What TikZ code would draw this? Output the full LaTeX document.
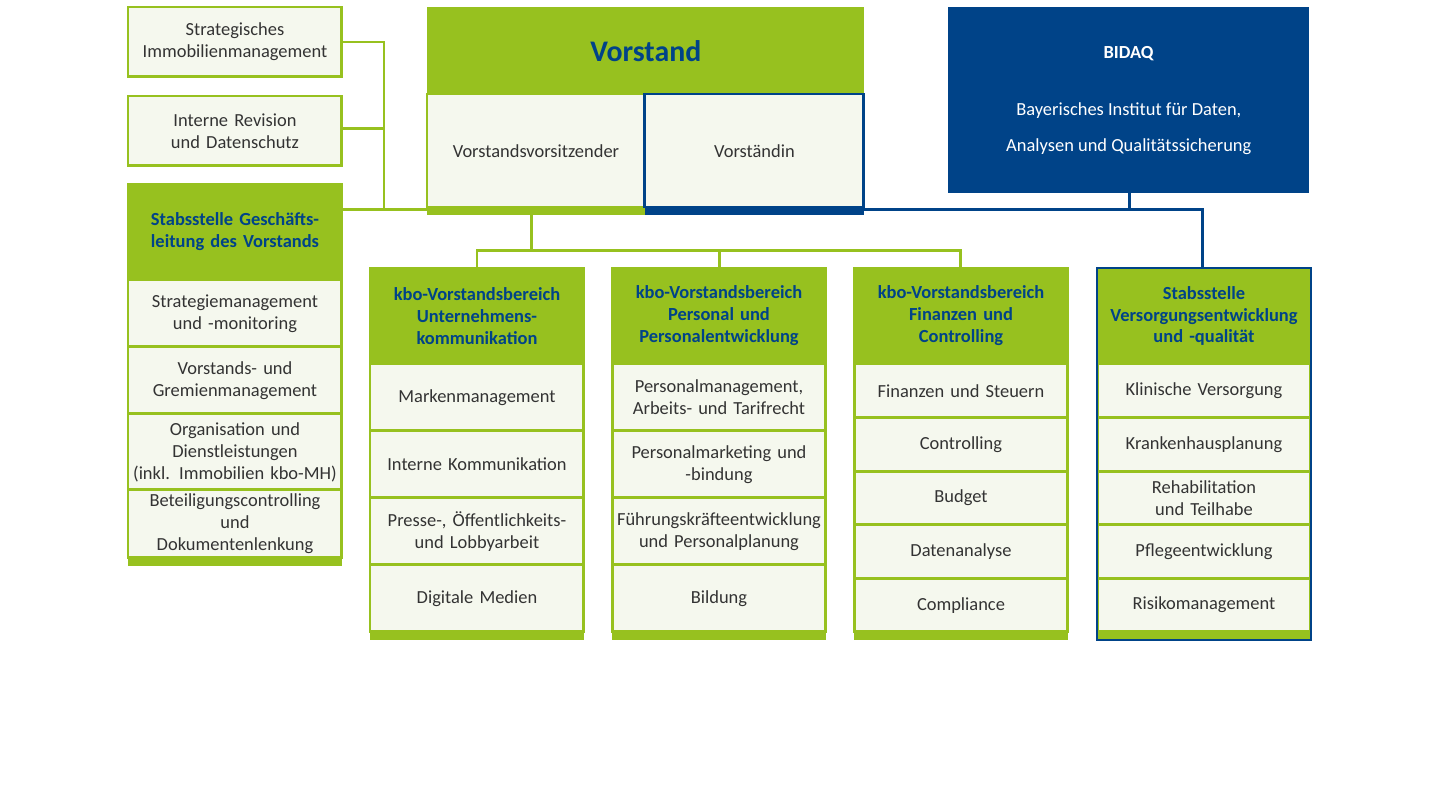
\documentclass[tikz,border=0pt]{standalone}
\usepackage{fontspec}
\setmainfont{Carlito}
\usetikzlibrary{positioning}
\definecolor{kgreen}{HTML}{97C11F}
\definecolor{kblue}{HTML}{004388}
\definecolor{klight}{HTML}{F5F8EE}
\definecolor{ktext}{HTML}{333333}
\tikzset{
  cell/.style={rectangle,draw=kgreen,fill=klight,line width=1.7pt,outer sep=0pt,inner sep=2pt,
    minimum width=4.28cm,minimum height=1.34cm,text width=4.1cm,align=center,text=ktext,
    font=\fontsize{10.5}{12.5}\selectfont},
  smallcell/.style={cell,minimum height=1.072cm},
  head/.style={cell,fill=kgreen,minimum height=1.92cm,text=kblue,font=\fontsize{10.5}{12.5}\selectfont\bfseries},
  bar/.style={rectangle,fill=kgreen,outer sep=0pt,inner sep=0pt,minimum width=4.28cm,minimum height=0.16cm},
  gline/.style={draw=kgreen,line width=1.7pt},
  bline/.style={draw=kblue,line width=1.7pt}
}
\begin{document}
\begin{tikzpicture}[x=0.02cm,y=-0.02cm]
  \useasboundingbox (0,0) rectangle (1440,809);
  % links
  \coordinate (lj) at (384,209);
  \draw[gline] (341,42) -| (lj) -- (427,209);
  \draw[gline] (341,128) -- (384,128);
  \draw[gline] (342,209) -- (lj);
  \draw[gline] (531,215) -- (531,250) coordinate (vj);
  \draw[gline] (477,268) |- (960,250) -- (960,268);
  \draw[gline] (719,250) -- (719,268);
  \draw[bline] (864,209) -| (1202,268);
  \draw[bline] (1129,193) -- (1129,209);
  % left
  \node[cell,anchor=north west,minimum height=1.4cm] (strat) at (128,7) {Strategisches\\Immobilienmanagement};
  \node[cell,anchor=north west,minimum height=1.4cm] (rev) at (128,96) {Interne Revision\\und Datenschutz};
  \node[head,anchor=north west] (stab) at (128,184) {Stabsstelle Geschäfts-\\leitung des Vorstands};
  \node[cell,below=0pt of stab] (s1) {Strategiemanagement\\und -monitoring};
  \node[cell,below=0pt of s1] (s2) {Vorstands- und\\Gremienmanagement};
  \node[cell,below=0pt of s2,minimum height=1.52cm] (s3) {Organisation und\\Dienstleistungen\\(inkl. Immobilien kbo-MH)};
  \node[cell,below=0pt of s3,minimum height=1.36cm] (s4) {Beteiligungscontrolling und\\Dokumentenlenkung};
  \node[bar,below=0pt of s4] (sb) {};
  % vorstand
  \node[rectangle,fill=kgreen,anchor=north west,minimum width=8.74cm,minimum height=1.74cm,
    text=kblue,font=\fontsize{17}{20}\selectfont\bfseries] (vor) at (427,7) {Vorstand};
  \node[cell,anchor=north west,minimum width=4.36cm,minimum height=2.28cm,text width=4.2cm] (vv) at (427,94) {Vorstandsvorsitzender};
  \node[cell,draw=kblue,right=0pt of vv,minimum width=4.38cm,minimum height=2.28cm,text width=4.2cm] (vin) {Vorständin};
  \node[bar,below=0pt of vv,minimum width=4.36cm,minimum height=0.14cm] (vvb) {};
  \node[bar,fill=kblue,below=0pt of vin,minimum width=4.38cm,minimum height=0.14cm] (vinb) {};
  % bidaq
  \node[rectangle,fill=kblue,anchor=north west,minimum width=7.22cm,minimum height=3.72cm,
    text=white,align=center,font=\fontsize{10.5}{20}\selectfont] (bid) at (948,7)
    {\textbf{BIDAQ}\\[1.2em]Bayerisches Institut für Daten,\\Analysen und Qualitätssicherung};
  % columns
  \node[head,anchor=north west] (uk) at (370,268) {kbo-Vorstandsbereich\\Unternehmens-\\kommunikation};
  \node[cell,below=0pt of uk] (uk1) {Markenmanagement};
  \node[cell,below=0pt of uk1] (uk2) {Interne Kommunikation};
  \node[cell,below=0pt of uk2] (uk3) {Presse-, Öffentlichkeits-\\und Lobbyarbeit};
  \node[cell,below=0pt of uk3] (uk4) {Digitale Medien};
  \node[bar,below=0pt of uk4] (ukb) {};
  \node[head,anchor=north west] (pe) at (612,268) {kbo-Vorstandsbereich\\Personal und\\Personalentwicklung};
  \node[cell,below=0pt of pe] (pe1) {Personalmanagement,\\Arbeits- und Tarifrecht};
  \node[cell,below=0pt of pe1] (pe2) {Personalmarketing und\\-bindung};
  \node[cell,below=0pt of pe2] (pe3) {Führungskräfteentwicklung\\und Personalplanung};
  \node[cell,below=0pt of pe3] (pe4) {Bildung};
  \node[bar,below=0pt of pe4] (peb) {};
  \node[head,anchor=north west] (fc) at (854,268) {kbo-Vorstandsbereich\\Finanzen und\\Controlling};
  \node[smallcell,below=0pt of fc] (fc1) {Finanzen und Steuern};
  \node[smallcell,below=0pt of fc1] (fc2) {Controlling};
  \node[smallcell,below=0pt of fc2] (fc3) {Budget};
  \node[smallcell,below=0pt of fc3] (fc4) {Datenanalyse};
  \node[smallcell,below=0pt of fc4] (fc5) {Compliance};
  \node[bar,below=0pt of fc5] (fcb) {};
  \node[head,anchor=north west] (ve) at (1097,268) {Stabsstelle\\Versorgungsentwicklung\\und -qualität};
  \node[smallcell,below=0pt of ve] (ve1) {Klinische Versorgung};
  \node[smallcell,below=0pt of ve1] (ve2) {Krankenhausplanung};
  \node[smallcell,below=0pt of ve2] (ve3) {Rehabilitation und Teilhabe};
  \node[smallcell,below=0pt of ve3] (ve4) {Pflegeentwicklung};
  \node[smallcell,below=0pt of ve4] (ve5) {Risikomanagement};
  \node[bar,below=0pt of ve5] (veb) {};
  \draw[draw=kblue,line width=1.1pt] (ve.north west) rectangle (veb.south east);
\end{tikzpicture}
\end{document}
